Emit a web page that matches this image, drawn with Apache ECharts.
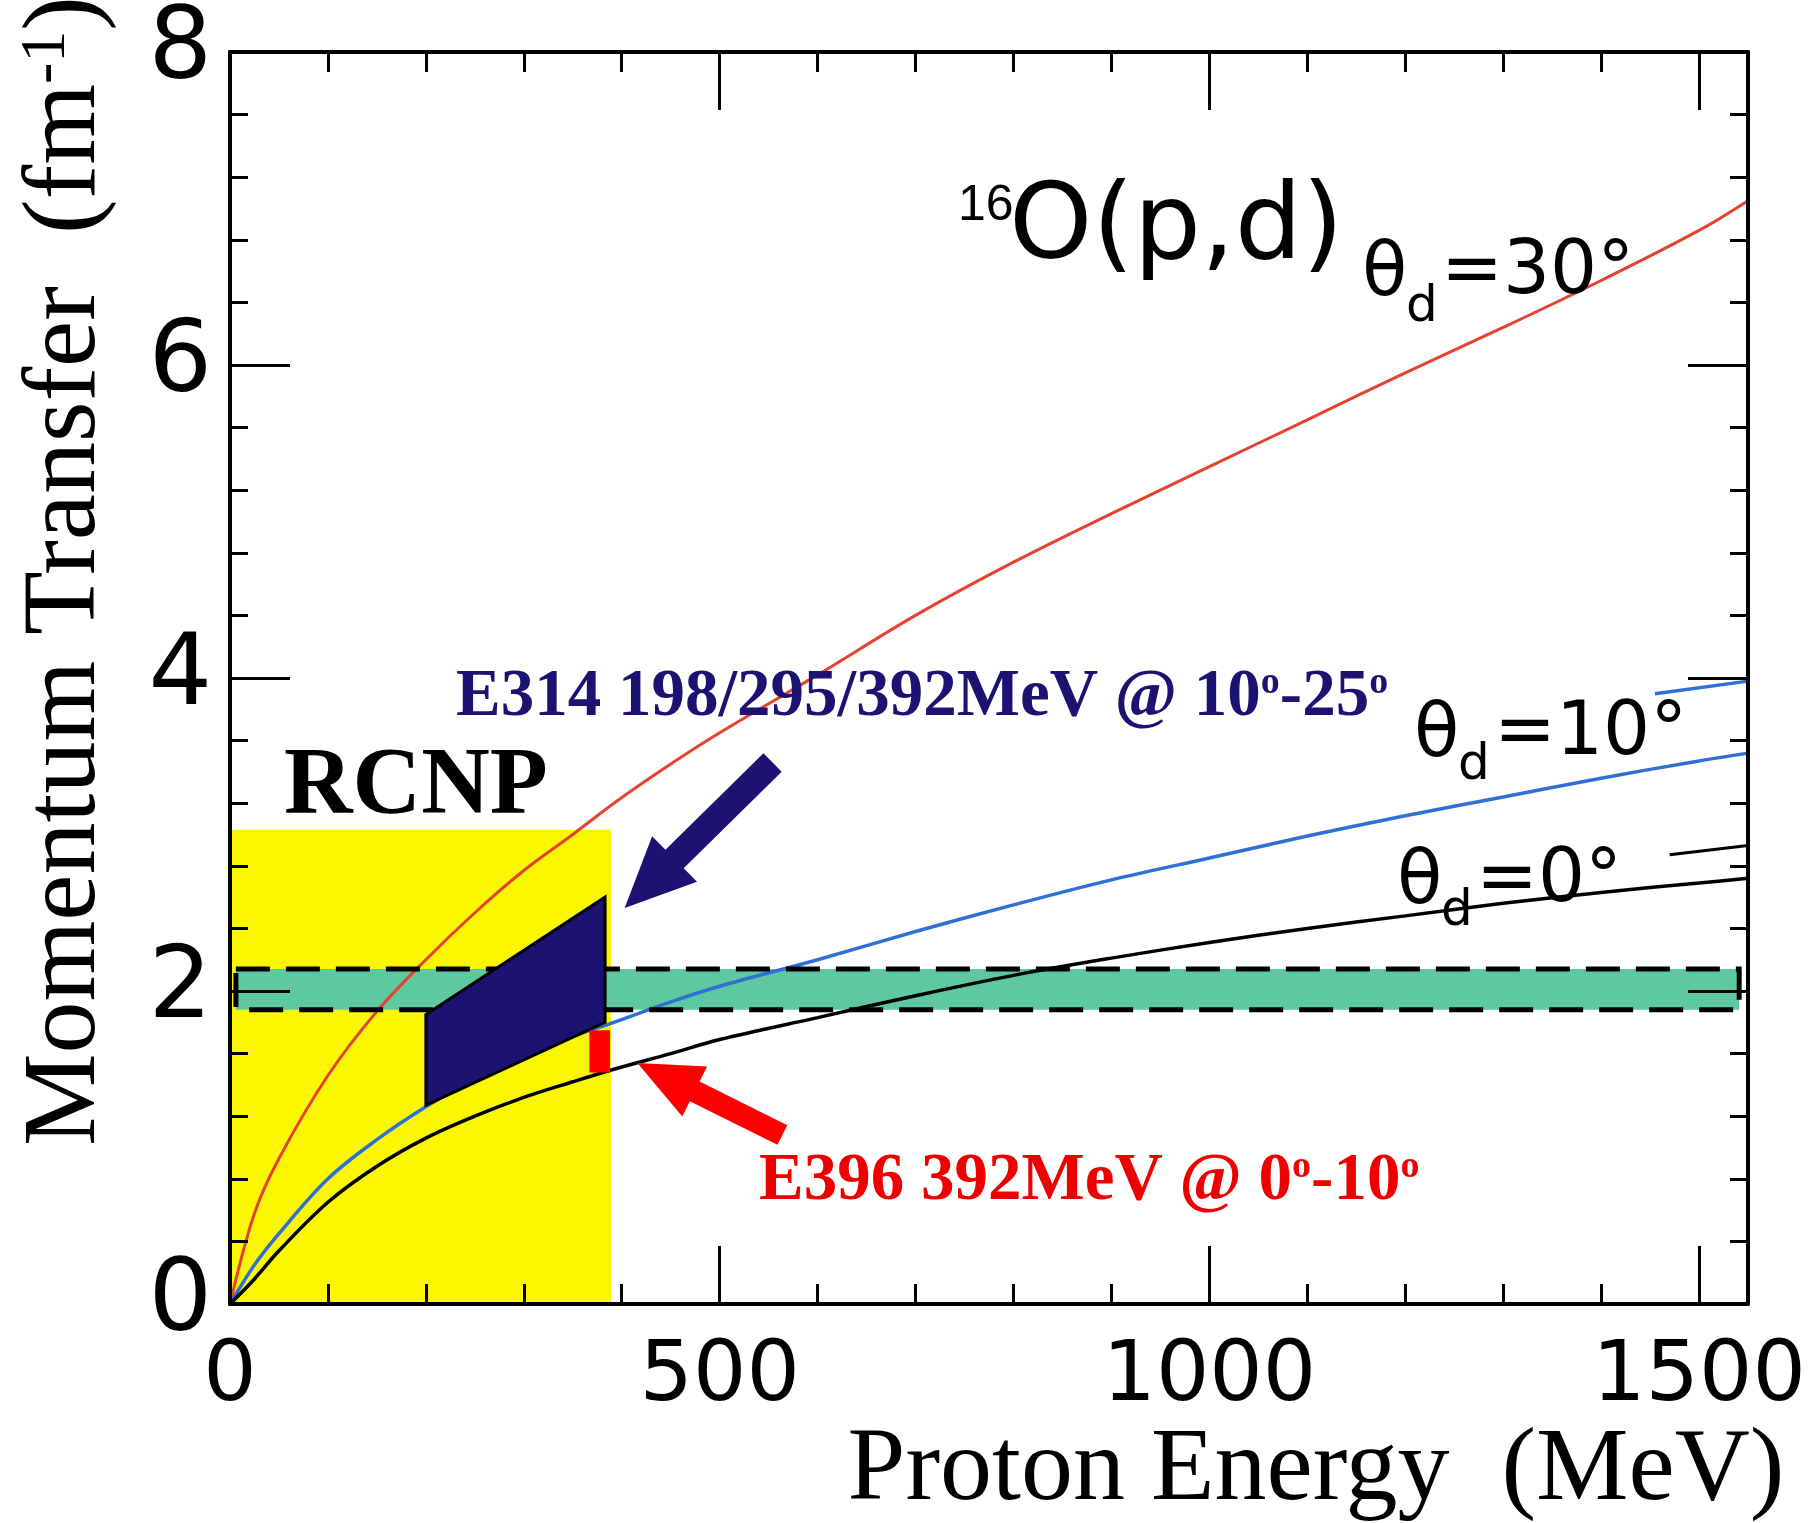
<!DOCTYPE html>
<html><head><meta charset="utf-8">
<script src="https://cdn.jsdelivr.net/npm/echarts@6/dist/echarts.min.js"></script>
<style>html,body{margin:0;padding:0;background:#fff}#c{width:1818px;height:1523px}</style>
</head><body><div id="c"></div>
<script>
// ---- data ----
const energy = [0,25,50,100,150,200,250,300,350,392,450,500,600,700,800,900,1000,1100,1200,1300,1400,1500,1550];
const qTheta30 = [0,0.58,0.93,1.46,1.87,2.2,2.5,2.77,3.0,3.2,3.45,3.65,4.02,4.4,4.74,5.05,5.35,5.65,5.95,6.24,6.54,6.86,7.05];
const qTheta10 = [0,0.25,0.45,0.8,1.05,1.26,1.44,1.58,1.71,1.8,1.93,2.03,2.2,2.38,2.55,2.71,2.85,2.99,3.12,3.24,3.36,3.47,3.52];
const qTheta0  = [0,0.16,0.34,0.65,0.88,1.06,1.2,1.32,1.42,1.5,1.6,1.69,1.83,1.97,2.1,2.21,2.31,2.4,2.48,2.56,2.63,2.69,2.72];
const extraBlue  = [[1455,3.9],[1550,3.98]];
const extraBlack = [[1470,2.87],[1550,2.93]];
const rcnpRegion = [0,0,389,3.03];            // E0,q0,E1,q1
const bandRegion = [6,1.88,1541,2.14];
const e314Region = [[200,1.27],[200,1.85],[383,2.6],[383,1.8]];
const e396Region = [367,1.48,388,1.75];
const e314Arrow  = [554,3.46,403,2.53];       // tail E,q -> tip E,q
const e396Arrow  = [564,1.08,416,1.54];
const xTickValues = [0,500,1000,1500];
const yTickValues = [0,2,4,6,8];

const NAVY = '#1b1272', RED = '#ee0000';
const TICKFONT = "'DejaVu Sans ExtraLight', 'DejaVu Sans'";
const chart = echarts.init(document.getElementById('c'), null, {renderer:'canvas', width:1818, height:1523});

function pairs(xs, ys){ return xs.map((x,i)=>[x, ys[i]]); }

function rectRender(style){
  return function(params, api){
    const p0 = api.coord([api.value(0), api.value(1)]);
    const p1 = api.coord([api.value(2), api.value(3)]);
    return {type:'rect', shape:{x:Math.min(p0[0],p1[0]), y:Math.min(p0[1],p1[1]),
      width:Math.abs(p1[0]-p0[0]), height:Math.abs(p1[1]-p0[1])}, style: style};
  };
}
function arrowRender(fill, w, L, H){
  return function(params, api){
    const t = api.coord([api.value(0), api.value(1)]);
    const p = api.coord([api.value(2), api.value(3)]);
    const dx=p[0]-t[0], dy=p[1]-t[1], len=Math.hypot(dx,dy);
    const ux=dx/len, uy=dy/len, nx=-uy, ny=ux;
    const bx=p[0]-ux*L, by=p[1]-uy*L;
    const pts=[[t[0]+nx*w,t[1]+ny*w],[bx+nx*w,by+ny*w],[bx+nx*H,by+ny*H],[p[0],p[1]],
               [bx-nx*H,by-ny*H],[bx-nx*w,by-ny*w],[t[0]-nx*w,t[1]-ny*w]];
    return {type:'polygon', shape:{points:pts}, style:{fill:fill}};
  };
}

const axisLineStyle = {color:'#000', width:4};
const tickStyle = {color:'#000', width:3};
function xAxisDef(pos, major){
  return {
    type:'value', min:0, max:1550, interval: major?500:100, position:pos, z:6,
    axisLine:{show:major, onZero:false, lineStyle:axisLineStyle},
    axisTick:{show:true, inside:true, length: major?58:20, lineStyle:tickStyle,
      customValues: major ? xTickValues : undefined},
    axisLabel: (major && pos==='bottom') ? {show:true, customValues:xTickValues, formatter:(v)=>String(v),
      fontFamily:TICKFONT, fontSize:84, color:'#000', margin:32} : {show:false},
    splitLine:{show:false}
  };
}
function yAxisDef(pos, major){
  return {
    type:'value', min:0, max:8, interval: major?2:0.4, position:pos, z:6,
    axisLine:{show:major, onZero:false, lineStyle:axisLineStyle},
    axisTick:{show:true, inside:true, length: major?60:18, lineStyle:tickStyle},
    axisLabel: (major && pos==='left') ? {show:true, customValues:yTickValues, formatter:(v)=>String(v),
      fontFamily:TICKFONT, fontSize:100, color:'#000', margin:18} : {show:false},
    splitLine:{show:false}
  };
}

function txt(text, x, y, size, family, opts){
  opts = opts || {};
  return {type:'text', x:x, y:y, z:100, rotation: opts.rotation || 0,
    style:{text:text, fontSize:size, fontFamily:family, fontWeight: opts.weight || 'normal',
      fill: opts.color || '#000', align: opts.align || 'left', verticalAlign:'middle',
      textAlign: opts.align || 'left', textVerticalAlign:'middle', rich: opts.rich}};
}
function richSet(color, size, supSize){
  return {
    m:{fontSize:size, fontFamily:'Liberation Serif', fontWeight:'bold', fill:color, color:color},
    s:{fontSize:supSize, fontFamily:'Liberation Serif', fontWeight:'bold', fill:color, color:color, verticalAlign:'top'}
  };
}

const lineCommon = {type:'line', symbol:'none', smooth:0.35, z:2, xAxisIndex:0, yAxisIndex:0};

const option = {
  backgroundColor:'#ffffff',
  animation:false,
  grid:{left:230, right:70, top:52, bottom:219, containLabel:false},
  xAxis:[xAxisDef('bottom',true), xAxisDef('bottom',false), xAxisDef('top',true), xAxisDef('top',false)],
  yAxis:[yAxisDef('left',true), yAxisDef('left',false), yAxisDef('right',true), yAxisDef('right',false)],
  series:[
    {type:'custom', name:'RCNP', z:1, data:[rcnpRegion], renderItem: rectRender({fill:'#fbf700'}), silent:true},
    {type:'custom', name:'band', z:1, data:[bandRegion], renderItem: rectRender({fill:'#5ec9a0'}), silent:true},
    Object.assign({}, lineCommon, {name:'theta30', data:pairs(energy,qTheta30), lineStyle:{color:'#e5432f', width:3}}),
    Object.assign({}, lineCommon, {name:'theta10', data:pairs(energy,qTheta10), lineStyle:{color:'#3070d4', width:3.5}}),
    Object.assign({}, lineCommon, {name:'theta0', data:pairs(energy,qTheta0), lineStyle:{color:'#000', width:3.5}}),
    Object.assign({}, lineCommon, {name:'extraBlue', data:extraBlue, smooth:false, lineStyle:{color:'#3070d4', width:3.5}}),
    Object.assign({}, lineCommon, {name:'extraBlack', data:extraBlack, smooth:false, lineStyle:{color:'#000', width:3}}),
    {type:'custom', name:'bandBorder', z:3, data:[bandRegion],
      renderItem: rectRender({fill:'none', stroke:'#000', lineWidth:5, lineDash:[34,16]}), silent:true},
    {type:'custom', name:'E314', z:4, data:[e314Region.flat()], silent:true,
      renderItem:function(params, api){
        const pts=[]; for(let i=0;i<4;i++) pts.push(api.coord([api.value(2*i), api.value(2*i+1)]));
        return {type:'polygon', shape:{points:pts}, style:{fill:NAVY, stroke:'#000', lineWidth:3}};
      }},
    {type:'custom', name:'E396', z:4, data:[e396Region], renderItem: rectRender({fill:'#ff0000'}), silent:true},
    {type:'custom', name:'E314arrow', z:4, data:[e314Arrow], renderItem: arrowRender(NAVY, 13, 70, 32), silent:true},
    {type:'custom', name:'E396arrow', z:4, data:[e396Arrow], renderItem: arrowRender('#ff0000', 11, 64, 28), silent:true}
  ],
  graphic:{elements:[
    txt('16', 958, 206, 50, 'Liberation Sans'),
    txt('O(p,d)', 1009, 230, 106, 'DejaVu Sans'),
    txt('θ', 1362, 276, 74, 'DejaVu Sans'),
    txt('d', 1406, 308, 50, 'DejaVu Sans'),
    txt('=30°', 1441, 274, 74, 'DejaVu Sans'),
    txt('θ', 1414, 737, 74, 'DejaVu Sans'),
    txt('d', 1458, 766, 50, 'DejaVu Sans'),
    txt('=10°', 1494, 735, 74, 'DejaVu Sans'),
    txt('θ', 1397, 884, 74, 'DejaVu Sans'),
    txt('d', 1441, 912, 50, 'DejaVu Sans'),
    txt('=0°', 1476, 882, 74, 'DejaVu Sans'),
    txt('RCNP', 284, 788, 95, 'Liberation Serif', {weight:'bold'}),
    txt('{m|E314 198/295/392MeV @ 10}{s|o}{m|-25}{s|o}', 456, 698, 67, 'Liberation Serif',
      {weight:'bold', color:NAVY, rich:richSet(NAVY,67,38)}),
    txt('{m|E396 392MeV @ 0}{s|o}{m|-10}{s|o}', 759, 1182, 67, 'Liberation Serif',
      {weight:'bold', color:RED, rich:richSet(RED,67,38)}),
    txt('Proton Energy  (MeV)', 1316, 1472, 104, 'Liberation Serif', {align:'center'}),
    txt('{m|Momentum Transfer  (fm}{s|-1}{m|)}', 67, 571, 104, 'Liberation Serif',
      {align:'center', rotation:Math.PI/2, rich:{
        m:{fontSize:104, fontFamily:'Liberation Serif', fill:'#000', color:'#000'},
        s:{fontSize:64, fontFamily:'Liberation Serif', fill:'#000', color:'#000', verticalAlign:'top'}}})
  ]}
};
chart.setOption(option);
</script></body></html>
